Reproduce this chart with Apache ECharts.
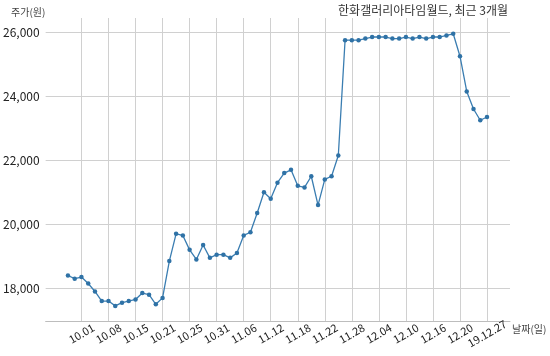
<!DOCTYPE html>
<html>
<head>
<meta charset="utf-8">
<script src="https://cdn.jsdelivr.net/npm/echarts@6/dist/echarts.min.js"></script>
<style>
html,body{margin:0;padding:0;background:#fff;}
#chart{width:550px;height:356px;}
</style>
</head>
<body>
<div id="chart"></div>
<script>
// Trading days (2019), MM.DD
const dates = [
  '09.27','09.30','10.01','10.02','10.04','10.07','10.08','10.10','10.11','10.14',
  '10.15','10.16','10.17','10.18','10.21','10.22','10.23','10.24','10.25','10.28',
  '10.29','10.30','10.31','11.01','11.04','11.05','11.06','11.07','11.08','11.11',
  '11.12','11.13','11.14','11.15','11.18','11.19','11.20','11.21','11.22','11.25',
  '11.26','11.27','11.28','11.29','12.02','12.03','12.04','12.05','12.06','12.09',
  '12.10','12.11','12.12','12.13','12.16','12.17','12.18','12.19','12.20','12.23',
  '12.24','12.26','12.27'
];
// Closing price (원)
const prices = [
  18400,18300,18350,18150,17900,17600,17600,17450,17550,17600,
  17650,17850,17800,17500,17700,18850,19700,19650,19200,18900,
  19350,18950,19050,19050,18950,19100,19650,19750,20350,21000,
  20800,21300,21600,21700,21200,21150,21500,20600,21400,21500,
  22150,25750,25750,25750,25800,25850,25850,25850,25800,25800,
  25850,25800,25850,25800,25850,25850,25900,25950,25250,24150,
  23600,23250,23350
];
const tickLabels = ['10.01','10.08','10.15','10.21','10.25','10.31','11.06','11.12',
  '11.18','11.22','11.28','12.04','12.10','12.16','12.20','19.12.27'];
const yTicks = [18000,20000,22000,24000,26000];
const titleText = '한화갤러리아타임월드, 최근 3개월';
const yName = '주가(원)';
const xName = '날짜(일)';

const tickPos = tickLabels.map(l => dates.indexOf(l.slice(-5)));
const labelAt = {};
tickPos.forEach((p, k) => { labelAt[p] = tickLabels[k]; });
const seriesData = prices.map((v, i) => [i, v]);

const FONT = '"Noto Sans CJK KR", "Noto Sans", sans-serif';
const chart = echarts.init(document.getElementById('chart'), null, {renderer: 'canvas'});
chart.setOption({
  animation: false,
  backgroundColor: '#ffffff',
  grid: {left: 43, right: 40, top: 18, bottom: 34.5, containLabel: false},
  xAxis: {
    type: 'value',
    min: -3.3,
    max: 65.4,
    axisLine: {show: true, lineStyle: {color: '#bdbdbd', width: 1}},
    axisTick: {show: false, customValues: tickPos},
    splitLine: {show: true, lineStyle: {color: '#d0d0d0', width: 1}},
    axisLabel: {
      customValues: tickPos,
      formatter: v => labelAt[Math.round(v)] || '',
      rotate: 30,
      align: 'center',
      verticalAlign: 'middle',
      margin: 12,
      fontSize: 11,
      fontFamily: FONT,
      color: '#222'
    }
  },
  yAxis: {
    type: 'value',
    min: 16962,
    max: 26444,
    axisLine: {show: false},
    axisTick: {show: false, customValues: yTicks},
    splitLine: {show: true, lineStyle: {color: '#d0d0d0', width: 1}},
    axisLabel: {
      customValues: yTicks,
      formatter: v => Number(v).toLocaleString('en-US'),
      margin: 6,
      fontSize: 12,
      fontFamily: FONT,
      color: '#222'
    }
  },
  graphic: [
    {type: 'text', right: 42, top: 4, style: {text: titleText, font: '12px ' + FONT, fill: '#333'}},
    {type: 'text', left: 11, top: 7, style: {text: yName, font: '10px ' + FONT, fill: '#444'}},
    {type: 'text', left: 512, top: 324, style: {text: xName, font: '10px ' + FONT, fill: '#444'}}
  ],
  series: [{
    type: 'line',
    data: seriesData,
    symbol: 'circle',
    symbolSize: 4.5,
    showSymbol: true,
    lineStyle: {color: '#3a7db1', width: 1.3},
    itemStyle: {color: '#2f72a6'},
    z: 5
  }]
});
</script>
</body>
</html>
